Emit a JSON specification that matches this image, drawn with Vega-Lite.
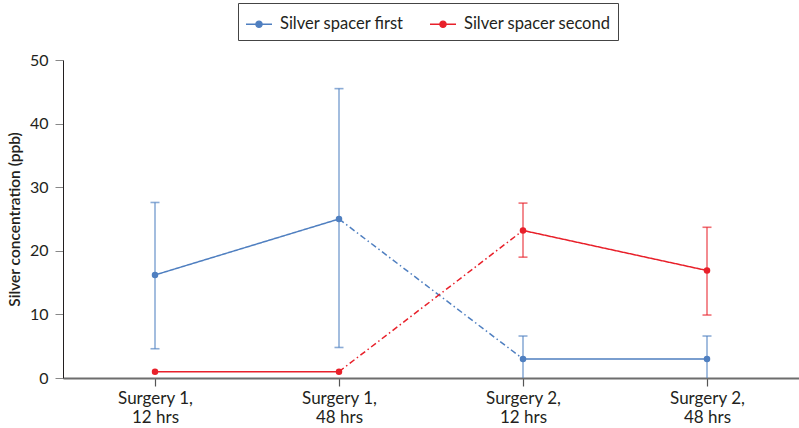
{
  "$schema": "https://vega.github.io/schema/vega-lite/v6.json",
  "width": 736,
  "height": 318,
  "autosize": "none",
  "padding": {"left": 63, "top": 60, "right": 0, "bottom": 50},
  "background": "white",
  "config": {"view": {"stroke": null}, "font": "Lato"},
  "datasets": {
    "pts": [
      {"series": "Silver spacer first", "time": "Surgery 1, 12 hrs", "value": 16.2, "lo": 4.6, "hi": 27.6},
      {"series": "Silver spacer first", "time": "Surgery 1, 48 hrs", "value": 25.0, "lo": 4.8, "hi": 45.5},
      {"series": "Silver spacer first", "time": "Surgery 2, 12 hrs", "value": 3.0, "lo": 0, "hi": 6.6},
      {"series": "Silver spacer first", "time": "Surgery 2, 48 hrs", "value": 3.0, "lo": 0, "hi": 6.6},
      {"series": "Silver spacer second", "time": "Surgery 1, 12 hrs", "value": 1.0, "lo": null, "hi": null},
      {"series": "Silver spacer second", "time": "Surgery 1, 48 hrs", "value": 1.0, "lo": null, "hi": null},
      {"series": "Silver spacer second", "time": "Surgery 2, 12 hrs", "value": 23.2, "lo": 19.0, "hi": 27.5},
      {"series": "Silver spacer second", "time": "Surgery 2, 48 hrs", "value": 16.9, "lo": 9.9, "hi": 23.7}
    ],
    "segs": [
      {"series": "Silver spacer first", "seg": "a", "style": "solid", "time": "Surgery 1, 12 hrs", "value": 16.2},
      {"series": "Silver spacer first", "seg": "a", "style": "solid", "time": "Surgery 1, 48 hrs", "value": 25.0},
      {"series": "Silver spacer first", "seg": "b", "style": "dashdot", "time": "Surgery 1, 48 hrs", "value": 25.0},
      {"series": "Silver spacer first", "seg": "b", "style": "dashdot", "time": "Surgery 2, 12 hrs", "value": 3.0},
      {"series": "Silver spacer first", "seg": "c", "style": "solid", "time": "Surgery 2, 12 hrs", "value": 3.0},
      {"series": "Silver spacer first", "seg": "c", "style": "solid", "time": "Surgery 2, 48 hrs", "value": 3.0},
      {"series": "Silver spacer second", "seg": "a", "style": "solid", "time": "Surgery 1, 12 hrs", "value": 1.0},
      {"series": "Silver spacer second", "seg": "a", "style": "solid", "time": "Surgery 1, 48 hrs", "value": 1.0},
      {"series": "Silver spacer second", "seg": "b", "style": "dashdot", "time": "Surgery 1, 48 hrs", "value": 1.0},
      {"series": "Silver spacer second", "seg": "b", "style": "dashdot", "time": "Surgery 2, 12 hrs", "value": 23.2},
      {"series": "Silver spacer second", "seg": "c", "style": "solid", "time": "Surgery 2, 12 hrs", "value": 23.2},
      {"series": "Silver spacer second", "seg": "c", "style": "solid", "time": "Surgery 2, 48 hrs", "value": 16.9}
    ]
  },
  "encoding": {
    "x": {
      "field": "time",
      "type": "ordinal",
      "scale": {"type": "point", "padding": 0.5, "domain": ["Surgery 1, 12 hrs", "Surgery 1, 48 hrs", "Surgery 2, 12 hrs", "Surgery 2, 48 hrs"]},
      "axis": {
        "title": null,
        "labelAngle": 0,
        "labelExpr": "[slice(datum.label, 0, 10), slice(datum.label, 11)]",
        "labelFontSize": 17,
        "labelLineHeight": 19,
        "labelColor": "#231f20",
        "labelPadding": 4,
        "domainColor": "#6d6d6d",
        "domainWidth": 2,
        "tickColor": "#555555",
        "tickSize": 8,
        "tickWidth": 1.2
      }
    },
    "color": {
      "field": "series",
      "type": "nominal",
      "scale": {"domain": ["Silver spacer first", "Silver spacer second"], "range": ["#4f7fc0", "#e8202a"]}
    }
  },
  "layer": [
    {
      "data": {"name": "pts"},
      "transform": [{"filter": "datum.lo != null"}],
      "mark": {"type": "rule", "strokeWidth": 1.6, "opacity": 0.65},
      "encoding": {
        "y": {
          "field": "lo",
          "type": "quantitative",
          "scale": {"domain": [0, 50], "nice": false},
          "axis": {
            "title": "Silver concentration (ppb)",
            "values": [0, 10, 20, 30, 40, 50],
            "grid": false,
            "domainColor": "#231f20",
            "tickColor": "#888888",
            "tickSize": 8,
            "labelPadding": 7,
            "labelFontSize": 16,
            "labelColor": "#231f20",
            "titleFontSize": 15.5,
            "titleFontWeight": 600,
            "titleColor": "#231f20",
            "titlePadding": 7
          }
        },
        "y2": {"field": "hi"}
      }
    },
    {
      "data": {"name": "pts"},
      "transform": [{"filter": "datum.lo != null && datum.lo > 0"}],
      "mark": {"type": "tick", "size": 9, "thickness": 1.6, "opacity": 0.65},
      "encoding": {"y": {"field": "lo", "type": "quantitative"}}
    },
    {
      "data": {"name": "pts"},
      "transform": [{"filter": "datum.hi != null"}],
      "mark": {"type": "tick", "size": 9, "thickness": 1.6, "opacity": 0.65},
      "encoding": {"y": {"field": "hi", "type": "quantitative"}}
    },
    {
      "data": {"name": "segs"},
      "mark": {"type": "line", "strokeWidth": 1.5},
      "encoding": {
        "y": {"field": "value", "type": "quantitative"},
        "detail": {"field": "seg"},
        "strokeDash": {
          "field": "style",
          "type": "nominal",
          "scale": {"domain": ["solid", "dashdot"], "range": [[1, 0], [6, 3, 1.5, 3]]},
          "legend": null
        }
      }
    },
    {
      "data": {"name": "pts"},
      "mark": {"type": "point", "filled": true, "size": 42, "opacity": 1},
      "encoding": {
        "y": {"field": "value", "type": "quantitative"},
        "color": {
          "field": "series",
          "type": "nominal",
          "legend": {
            "title": null,
            "orient": "none",
            "legendX": 175,
            "legendY": -57,
            "direction": "horizontal",
            "strokeColor": "#444444",
            "padding": 7,
            "labelFontSize": 16.5,
            "labelColor": "#231f20",
            "labelOffset": 7,
            "columnPadding": 23,
            "symbolType": "M-1,0L1,0M-0.24,0A0.24,0.24,0,1,0,0.24,0A0.24,0.24,0,1,0,-0.24,0Z",
            "symbolSize": 676,
            "symbolStrokeWidth": 1.3,
            "symbolOpacity": 1,
            "encode": {
              "symbols": {
                "update": {
                  "stroke": {"scale": "color", "field": "value"},
                  "fill": {"scale": "color", "field": "value"}
                }
              }
            }
          }
        }
      }
    }
  ]
}
